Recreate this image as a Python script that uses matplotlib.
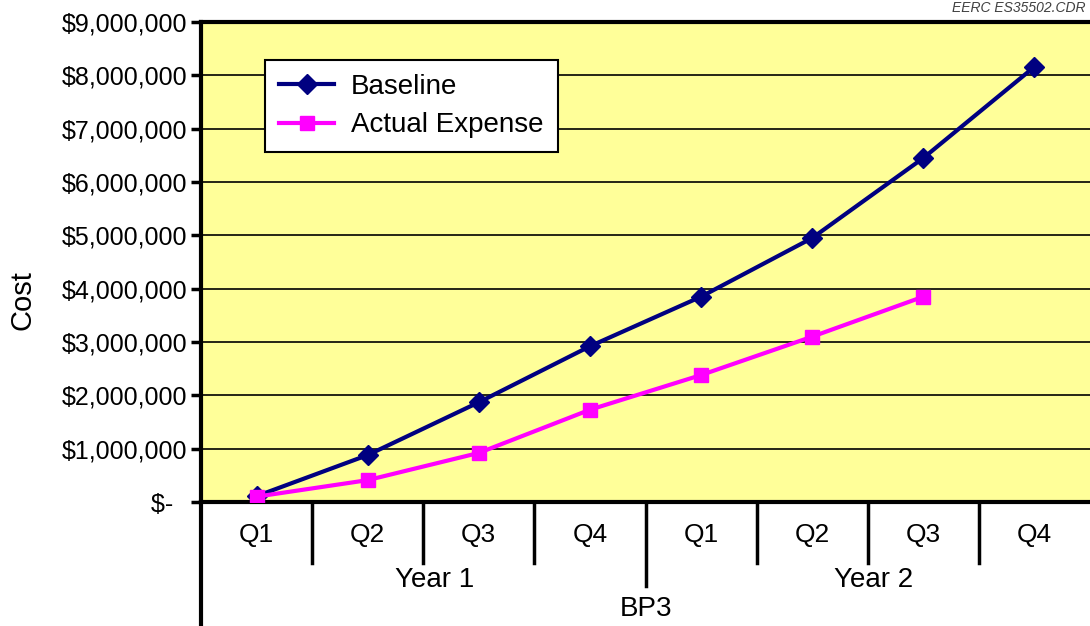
import matplotlib.pyplot as plt
from matplotlib.ticker import FuncFormatter

plt.rcParams['font.family'] = ['Liberation Sans', 'DejaVu Sans']

# Data
quarters = ["Q1", "Q2", "Q3", "Q4", "Q1", "Q2", "Q3", "Q4"]
years = ["Year 1", "Year 2"]
period = "BP3"
baseline = [110000, 880000, 1870000, 2920000, 3850000, 4950000, 6450000, 8160000]
actual = [100000, 410000, 920000, 1730000, 2380000, 3100000, 3850000]

fig = plt.figure(figsize=(10.9, 6.26), dpi=100)
ax = fig.add_axes([201 / 1090, 124 / 626, 1 - 201 / 1090, 480 / 626])
ax.set_facecolor('#FFFF99')

x_base = list(range(len(baseline)))
x_act = list(range(len(actual)))
ax.plot(x_base, baseline, color='#000080', lw=3, marker='D', ms=10,
        label='Baseline', zorder=3)
ax.plot(x_act, actual, color='#FF00FF', lw=3, marker='s', ms=10,
        label='Actual Expense', zorder=3)

ax.set_xlim(-0.5, 7.5)
ax.set_ylim(0, 9000000)
ax.set_yticks(range(0, 9000001, 1000000))
ax.yaxis.set_major_formatter(FuncFormatter(
    lambda v, p: "$-  " if v == 0 else "${:,.0f}".format(v)))
ax.tick_params(axis='y', labelsize=18, length=7, width=2.5, direction='out', pad=3)
ax.grid(axis='y', color='black', lw=1.2)
ax.set_axisbelow(True)

ax.spines['right'].set_visible(False)
ax.spines['left'].set_linewidth(3)
ax.spines['top'].set_linewidth(3)
ax.spines['bottom'].set_linewidth(3)

# category axis drawn by hand
ax.set_xticks([])
tr = ax.get_xaxis_transform()
ax.plot([-0.5, -0.5], [0, -0.26], color='black', lw=3, transform=tr, clip_on=False)
for i in range(1, len(quarters)):
    depth = -0.175 if i == 4 else -0.127
    ax.plot([i - 0.5, i - 0.5], [0, depth], color='black', lw=2.5,
            transform=tr, clip_on=False)
for i, q in enumerate(quarters):
    ax.text(i, -0.068, q, transform=tr, ha='center', va='center', fontsize=19)
ax.text(1.6, -0.163, years[0], transform=tr, ha='center', va='center', fontsize=20)
ax.text(5.55, -0.163, years[1], transform=tr, ha='center', va='center', fontsize=20)
ax.text(3.5, -0.222, period, transform=tr, ha='center', va='center', fontsize=20)

fig.text(22 / 1090, 1 - 300 / 626, "Cost", rotation=90, ha='center', va='center',
         fontsize=21)
fig.text(0.996, 1 - 8 / 626, "EERC ES35502.CDR", ha='right', va='center',
         fontsize=10, style='italic', color='#404040')

leg = ax.legend(loc='upper left', bbox_to_anchor=(64 / 889, 1 - 38 / 480),
                fontsize=20, frameon=True, fancybox=False, framealpha=1,
                edgecolor='black', borderpad=0.5, handlelength=2.0,
                handletextpad=0.6, labelspacing=0.45, borderaxespad=0)
leg.get_frame().set_linewidth(1.5)

fig.savefig('out.png', dpi=100)
